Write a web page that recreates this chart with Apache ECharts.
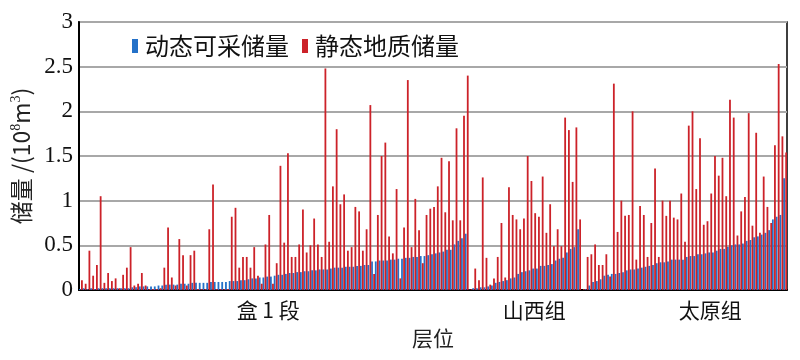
<!DOCTYPE html>
<html><head><meta charset="utf-8">
<script src="https://cdn.jsdelivr.net/npm/echarts@6/dist/echarts.min.js"></script>
<style>html,body{margin:0;padding:0;background:#fff}#c{width:800px;height:360px}</style>
</head><body><div id="c"></div>
<script>
// Group (layer) names, their bar counts and where the group label sits
var groupNames = ['盒 1 段', '山西组', '太原组'];
var groupSizes = [104, 30, 55];
var groupLabelAt = [50, 121, 168];

// 动态可采储量 (10^8 m^3)
var dynamicReserve = [
  0.01,0.02,0.01,0.02,0.01,0.02,0.02,0.02,0.02,0.02,
  0.02,0.02,0.02,0.02,0.03,0.03,0.04,0.04,0.04,0.04,
  0.04,0.05,0.05,0.06,0.06,0.06,0.06,0.07,0.07,0.07,
  0.08,0.08,0.08,0.08,0.08,0.09,0.09,0.09,0.09,0.09,
  0.10,0.10,0.10,0.11,0.11,
  0.12,0.13,0.13,0.14,0.14,0.15,
  0.15,0.16,0.17,0.17,0.18,0.19,
  0.19,0.20,0.20,0.21,0.21,
  0.22,0.22,0.23,0.23,0.23,
  0.24,0.25,0.25,0.25,0.26,0.26,
  0.26,0.27,0.27,0.28,0.28,
  0.32,0.32,0.33,0.33,0.33,0.34,0.34,0.35,0.35,
  0.36,0.36,0.37,0.37,0.38,0.38,0.39,
  0.40,0.41,0.42,0.43,0.45,0.45,0.51,0.55,0.58,0.63,
  // 山西组
  0.005,0.02,0.02,0.03,0.03,0.04,0.05,0.08,0.09,0.10,
  0.11,0.13,0.14,0.18,0.20,0.21,0.22,0.24,0.24,0.27,
  0.27,0.28,0.29,0.33,0.35,0.36,0.42,0.46,0.48,0.68,
  // 太原组
  0.00,0.01,0.05,0.09,0.10,0.12,0.16,0.17,0.18,0.18,
  0.19,0.20,0.22,0.23,0.23,0.24,0.25,0.26,0.27,0.28,
  0.30,0.31,0.31,0.32,0.34,0.34,0.34,0.34,0.37,0.38,
  0.38,0.40,0.40,0.41,0.42,0.42,0.44,0.46,0.46,0.48,
  0.50,0.51,0.51,0.52,0.55,0.56,0.59,0.60,0.62,0.64,
  0.67,0.79,0.82,0.84,1.25
];

// 静态地质储量 (10^8 m^3)
var staticReserve = [
  0.11,0.07,0.44,0.16,0.28,1.05,0.08,0.19,0.10,0.13,
  0.02,0.17,0.25,0.48,0.05,0.07,0.19,0.05,0.01,0.01,
  0.01,0.02,0.25,0.70,0.14,0.05,0.57,0.39,0.05,0.39,
  0.44,0.01,0.01,0.01,0.68,1.18,0.01,0.01,0.01,0.01,
  0.82,0.92,0.25,0.37,0.37,
  0.25,0.48,0.16,0.07,0.51,0.84,0.07,0.30,1.39,0.53,
  1.53,0.37,0.37,0.51,0.90,0.42,0.50,0.80,0.51,0.37,
  2.48,0.54,1.16,1.80,0.96,1.07,0.44,0.48,0.93,0.88,
  0.44,0.68,2.07,0.18,0.84,1.50,1.65,0.60,0.41,1.13,
  0.13,0.70,2.35,0.48,1.02,0.67,0.30,0.84,0.91,0.93,
  1.16,1.48,0.87,1.44,0.78,1.81,0.78,1.95,2.40,
  // 山西组
  0.01,0.24,0.11,1.26,0.36,0.06,0.13,0.37,0.75,0.14,
  1.15,0.84,0.79,0.68,0.80,1.50,1.22,0.86,0.82,1.27,
  0.64,0.96,0.49,0.68,0.49,1.93,1.79,1.21,1.82,0.79,
  // 太原组
  0.01,0.37,0.40,0.51,0.28,0.28,0.40,0.15,2.31,0.65,
  1.00,0.83,0.84,2.00,0.34,0.94,0.84,0.37,0.75,1.36,
  0.37,1.00,0.83,1.00,0.81,0.79,1.08,0.54,1.84,2.00,
  1.13,1.70,0.73,0.77,1.08,1.50,1.28,1.48,1.05,2.13,
  1.93,0.61,0.88,1.04,1.98,0.72,1.76,0.64,1.27,0.93,
  0.75,1.62,2.53,1.72,1.54
];

var yTicks = [0, 0.5, 1, 1.5, 2, 2.5, 3];

// categories: one per unit, named by group
var categories = [];
var labelMap = {};
(function(){
  for (var g = 0; g < groupNames.length; g++) {
    for (var j = 0; j < groupSizes[g]; j++) { categories.push(groupNames[g] + '-' + (j + 1)); }
    labelMap[groupLabelAt[g]] = groupNames[g];
  }
})();

var cjk = '"Noto Sans CJK SC", sans-serif';
var serif = '"Liberation Serif", "DejaVu Serif", serif';

var chart = echarts.init(document.getElementById('c'), null, {renderer: 'canvas'});
chart.setOption({
  animation: false,
  backgroundColor: '#fff',
  grid: {left: 79, right: 13, top: 22, bottom: 70, show: true, borderColor: '#000', borderWidth: 1.5, containLabel: false},
  legend: {
    left: 127, top: 29,
    icon: 'rect', itemWidth: 6, itemHeight: 14, itemGap: 13,
    textStyle: {fontFamily: cjk, fontSize: 24, color: '#111', padding: [0, 0, 0, 2]},
    data: ['动态可采储量', '静态地质储量']
  },
  xAxis: {
    type: 'category',
    data: categories,
    name: '层位', nameLocation: 'middle', nameGap: 38,
    nameTextStyle: {fontFamily: cjk, fontSize: 21, color: '#222'},
    axisLine: {lineStyle: {color: '#000', width: 2}},
    axisTick: {show: false},
    axisLabel: {
      interval: 0, margin: 10, fontFamily: cjk, fontSize: 21, color: '#111',
      formatter: function (v, i) { return labelMap[i] || ''; }
    }
  },
  yAxis: {
    type: 'value', min: 0, max: 3, interval: 0.5,
    name: '储量 /(10{s|8}m{s|3})', nameLocation: 'middle', nameGap: 31, nameRotate: 90,
    nameTextStyle: {
      fontFamily: cjk, fontSize: 23, color: '#222',
      rich: {s: {fontFamily: serif, fontSize: 14, color: '#222', verticalAlign: 'top', lineHeight: 14, padding: [0,0,10,0]}}
    },
    axisLine: {show: true, lineStyle: {color: '#000', width: 2}},
    axisTick: {show: false},
    axisLabel: {
      fontFamily: serif, fontSize: 23, color: '#111', margin: 6,
      formatter: function (v) { return yTicks.indexOf(v) >= 0 ? String(v) : ''; }
    },
    splitLine: {lineStyle: {color: '#a8a8a8', width: 2}}
  },
  series: [
    {name: '动态可采储量', type: 'bar', data: dynamicReserve, barWidth: 1.8, barGap: '15%',
     itemStyle: {color: '#2471c8'}},
    {name: '静态地质储量', type: 'bar', data: staticReserve, barWidth: 1.8, barGap: '15%',
     itemStyle: {color: '#cc2229'}}
  ]
});
</script>
</body></html>
